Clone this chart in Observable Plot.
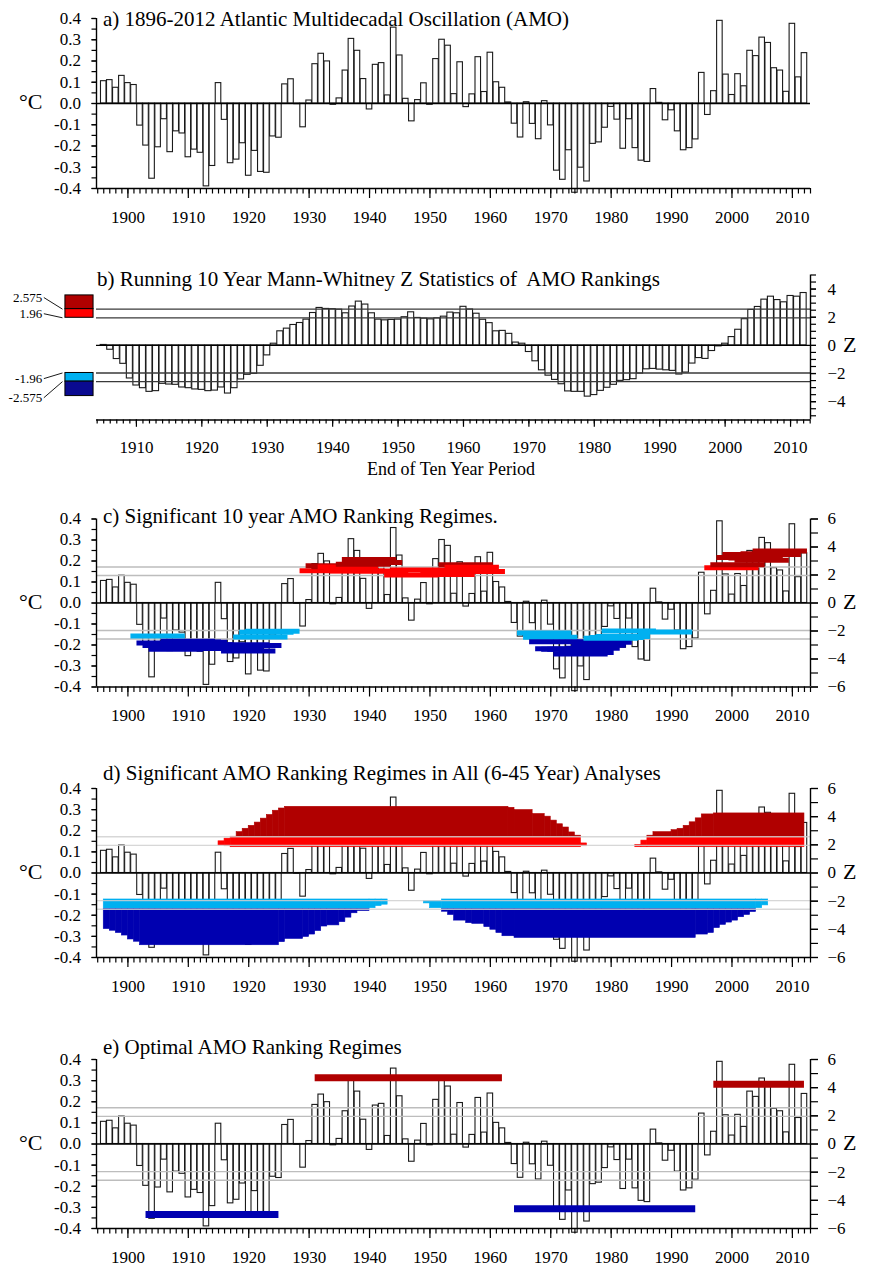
<!DOCTYPE html>
<html>
<head>
<meta charset="utf-8">
<script src="https://cdn.jsdelivr.net/npm/d3@7"></script>
<script src="https://cdn.jsdelivr.net/npm/@observablehq/plot@0.6"></script>
<style>
  body { margin: 0; background: #fff; }
  #page { position: relative; width: 869px; height: 1268px; overflow: hidden; background: #fff;
          font-family: "Liberation Serif", "Times New Roman", serif; color: #000; }
  .panel { position: absolute; left: 0; }
  .panel svg, .panel svg text { font-family: "Liberation Serif", "Times New Roman", serif !important; }
  .lbl { position: absolute; white-space: pre; line-height: 1; }
</style>
</head>
<body>
<div id="page"></div>
<script>
// ---------------- data ----------------
// Annual AMO index (deg C), 1896-2012
const amoYears = d3.range(1896, 2013);
const amoValues = [
  0.105, 0.110, 0.074, 0.130, 0.096, 0.087, -0.104, -0.198, -0.354, -0.206,   // 1896-1905
  -0.074, -0.229, -0.131, -0.141, -0.253, -0.217, -0.232, -0.390, -0.294, 0.096, // 1906-1915
  -0.077, -0.281, -0.264, -0.187, -0.340, -0.223, -0.322, -0.326, -0.155, -0.161, // 1916-1925
  0.090, 0.114, -0.003, -0.112, 0.014, 0.185, 0.234, 0.198, -0.006, 0.024,     // 1926-1935
  0.155, 0.304, 0.248, 0.115, -0.028, 0.182, 0.190, 0.038, 0.357, 0.226,       // 1936-1945
  0.022, -0.084, 0.016, 0.095, -0.006, 0.209, 0.300, 0.272, 0.044, 0.194,      // 1946-1955
  -0.017, 0.043, 0.218, 0.054, 0.239, 0.100, 0.074, 0.005, -0.095, -0.160,     // 1956-1965
  0.006, -0.096, -0.168, 0.011, -0.103, -0.316, -0.359, -0.220, -0.420, -0.302, // 1966-1975
  -0.367, -0.190, -0.183, -0.114, -0.016, -0.076, -0.213, -0.074, -0.210, -0.269, // 1976-1985
  -0.275, 0.068, 0.003, -0.079, -0.032, -0.131, -0.220, -0.210, -0.169, 0.144, // 1986-1995
  -0.054, 0.058, 0.389, 0.136, 0.040, 0.138, 0.081, 0.248, 0.223, 0.310,       // 1996-2005
  0.285, 0.166, 0.155, 0.055, 0.375, 0.123, 0.237                              // 2006-2012
];

// Running 10-year Mann-Whitney Z statistic, by end year of the window
const zYears = d3.range(1905, 2013);
const zValues = [
  0.03, -0.31, -0.97, -1.31, -2.35, -2.85, -3.04, -3.30, -3.25, -2.73,  // 1905-1914
  -2.78, -2.80, -2.99, -3.04, -3.13, -3.16, -3.25, -3.21, -2.99, -3.42, // 1915-1924
  -3.04, -2.42, -2.09, -2.02, -1.45, -0.71, 0.12, 1.00, 1.19, 1.45,     // 1925-1934
  1.59, 1.83, 2.30, 2.66, 2.59, 2.57, 2.54, 2.28, 2.76, 3.11,           // 1935-1944
  2.90, 2.28, 1.83, 1.78, 1.81, 1.83, 2.00, 2.35, 1.95, 1.90,           // 1945-1954
  1.85, 1.92, 2.04, 2.33, 2.28, 2.74, 2.55, 2.25, 1.82, 1.58,           // 1955-1964
  1.00, 1.03, 0.82, 0.20, 0.12, -0.47, -1.13, -1.77, -2.15, -2.45,      // 1965-1974
  -2.76, -3.27, -3.30, -3.30, -3.64, -3.53, -3.23, -3.01, -2.80, -2.52, // 1975-1984
  -2.47, -2.40, -2.00, -1.70, -1.67, -1.72, -1.77, -1.81, -2.07, -1.93, // 1985-1994
  -1.29, -0.90, -0.96, -0.40, -0.07, 0.12, 0.59, 1.11, 1.86, 2.52,      // 1995-2004
  2.73, 3.25, 3.46, 3.22, 3.06, 3.51, 3.46, 3.72                        // 2005-2012
];

// Significance thresholds (Z) and their legend labels
const zLevels = [2.575, 1.96, -1.96, -2.575];
const zLevelText = ["2.575", "1.96", "-1.96", "-2.575"];

// All-analysis (6-45 year) regime envelopes, in Z units
// dark red: from 2.575 up to drTop
const drStart = [1918,1919,1920,1921,1922,1923,1924,1925,1926,1963,1964,1967,1969,1970,1971,1972,1973,1974,
                 1986,1987,1990,1991,1992,1993,1994,1995,1997];
const drEnd   = [1919,1920,1921,1922,1923,1924,1925,1926,1963,1964,1967,1969,1970,1971,1972,1973,1974,1975,
                 1987,1990,1991,1992,1993,1994,1995,1997,2012];
const drTop   = [2.90,3.14,3.35,3.58,3.86,4.12,4.42,4.58,4.70,4.63,4.47,4.19,4.00,3.72,3.46,3.23,2.88,2.65,
                 2.65,2.90,3.04,3.14,3.35,3.60,3.88,4.16,4.23];
// red: between rbLow and rbHigh
const rbStart = [1915, 1916, 1917, 1975, 1984, 1985, 1986];
const rbEnd   = [1916, 1917, 1975, 1976, 1985, 1986, 2012];
const rbLow   = [1.95, 1.90, 1.83, 1.90, 1.83, 1.83, 1.83];
const rbHigh  = [2.25, 2.44, 2.575, 2.10, 2.00, 2.30, 2.575];
// light blue: between lbHigh and lbLow
const lbStart = [1896, 1940, 1941, 1942, 1949, 1950, 1952, 2004, 2005];
const lbEnd   = [1940, 1941, 1942, 1943, 1950, 1952, 2004, 2005, 2006];
const lbHigh  = [-1.88, -1.88, -1.88, -1.88, -1.98, -1.98, -1.88, -1.88, -1.88];
const lbLow   = [-2.575, -2.50, -2.35, -2.25, -2.16, -2.50, -2.575, -2.50, -2.30];
// dark blue: from -2.575 down to dbBottom
const dbStart  = [1896,1897,1898,1899,1900,1901,1902,1925,1926,1929,1930,1931,1932,1933,1935,1936,1937,1938,
                  1952,1953,1954,1956,1957,1959,1960,1961,1962,1964,1994,1996,1997,1998,1999,2000,2001,2002,2003];
const dbEnd    = [1897,1898,1899,1900,1901,1902,1925,1926,1929,1930,1931,1932,1933,1935,1936,1937,1938,1940,
                  1953,1954,1956,1957,1959,1960,1961,1962,1964,1994,1996,1997,1998,1999,2000,2001,2002,2003,2004];
const dbBottom = [-3.98,-4.10,-4.26,-4.44,-4.72,-4.88,-5.13,-4.91,-4.68,-4.54,-4.37,-4.12,-3.80,-3.72,-3.49,-3.17,-2.86,-2.70,
                  -2.75,-2.98,-3.38,-3.56,-3.61,-3.84,-4.03,-4.26,-4.49,-4.61,-4.37,-4.26,-3.91,-3.68,-3.52,-3.38,-3.14,-2.98,-2.77];

// Optimal regimes
const optStart = [1903, 1931, 1964, 1997];
const optEnd   = [1925, 1962, 1994, 2012];
const optZ     = [-5.00, 4.70, -4.60, 4.25];

// Tick labels
const decadeTicks = [1900, 1910, 1920, 1930, 1940, 1950, 1960, 1970, 1980, 1990, 2000, 2010];
const decadeTicksB = [1910, 1920, 1930, 1940, 1950, 1960, 1970, 1980, 1990, 2000, 2010];
const cTickValues = [0.4, 0.3, 0.2, 0.1, 0, -0.1, -0.2, -0.3, -0.4];
const cTickText   = ["0.4", "0.3", "0.2", "0.1", "0.0", "-0.1", "-0.2", "-0.3", "-0.4"];
const zTickValues = [6, 4, 2, 0, -2, -4, -6];
const zTickText   = ["6", "4", "2", "0", "\u22122", "\u22124", "\u22126"];
const zbTickValues = [4, 2, 0, -2, -4];
const zbTickText   = ["4", "2", "0", "\u22122", "\u22124"];

// ---------------- styling helpers ----------------
const W = 869;
const FONT = '"Liberation Serif", "Times New Roman", serif';
const COL = { darkRed: "#b00000", red: "#ff0000", lightBlue: "#00b0f0", darkBlue: "#0000b0" };
const zToC = z => z * 0.4 / 6;             // right-hand Z axis: 6 Z <-> 0.4 degC
const xDomain = [1894.8, 2013.0];
const xDomainB = [1903.9, 2013.05];

const amo = amoYears.map((year, i) => ({ year, value: amoValues[i] }));
const zRun = zYears.map((year, i) => ({ year, z: zValues[i] }));

function zColor(z) {
  if (z >= 2.575) return COL.darkRed;
  if (z >= 1.96) return COL.red;
  if (z <= -2.575) return COL.darkBlue;
  return COL.lightBlue;
}

function amoBars() {
  return Plot.rect(amo, {
    x1: d => d.year - 0.5, x2: d => d.year + 0.5, y1: 0, y2: "value",
    fill: "white", stroke: "#1a1a1a", strokeWidth: 1.1, insetLeft: 0.25, insetRight: 0.25
  });
}

const axisText = { fontFamily: FONT, fontSize: 17, label: null, strokeWidth: 1.2 };

function yearAxis(minorTicks, majorTicks, majorSize, minorSize, pad) {
  return [
    Plot.axisX({ ...axisText, ticks: minorTicks, tickSize: minorSize, tickFormat: () => "" }),
    Plot.axisX({ ...axisText, ticks: majorTicks, tickSize: majorSize, tickPadding: pad, tickFormat: d => String(d) })
  ];
}

const cMinorTicks = cTickValues.slice(1).map((v, i) => (v + cTickValues[i]) / 2).concat(cTickValues);
function celsiusAxis() {
  return [
    Plot.axisY({ ...axisText, anchor: "left", ticks: cMinorTicks, tickSize: 4.5, tickFormat: () => "" }),
    Plot.axisY({ ...axisText, anchor: "left", ticks: cTickValues, tickSize: 4.5, tickPadding: 11,
                 tickFormat: d => cTickText[cTickValues.findIndex(v => Math.abs(v - d) < 1e-9)] })
  ];
}

const zAllTicks = d3.range(-6, 7);
function zRightAxis() {
  return [
    Plot.axisY({ ...axisText, anchor: "right", ticks: zAllTicks.map(zToC), tickSize: 7, tickFormat: () => "" }),
    Plot.axisY({ ...axisText, anchor: "right", ticks: zTickValues.map(zToC), tickSize: 7, tickPadding: 10,
                 tickFormat: d => zTickText[zTickValues.findIndex(z => Math.abs(zToC(z) - d) < 1e-9)] })
  ];
}

function sigLines() {
  return Plot.ruleY(zLevels.map(zToC), { stroke: "#bdbdbd", strokeWidth: 1.4 });
}

function frame(withLeft, withRight, dom) {
  const m = [Plot.ruleY([-0.4], { stroke: "black", strokeWidth: 1.4 })];
  if (withLeft) m.push(Plot.ruleX([dom[0]], { y1: -0.4, y2: 0.4, stroke: "black", strokeWidth: 1.4 }));
  if (withRight) m.push(Plot.ruleX([dom[1]], { y1: -0.4, y2: 0.4, stroke: "black", strokeWidth: 1.4 }));
  return m;
}

const baseStyle = `font-family: ${FONT}; font-size: 17px; background: transparent; overflow: visible; color: black;`;

const page = document.getElementById("page");
function place(el, top) {
  const d = document.createElement("div");
  d.className = "panel";
  d.style.top = top + "px";
  d.appendChild(el);
  page.appendChild(d);
}
function label(text, x, cy, size, align) {
  const d = document.createElement("div");
  d.className = "lbl";
  d.textContent = text;
  d.style.fontSize = size + "px";
  d.style.top = (cy - 0.51 * size) + "px";
  d.style.left = x + "px";
  if (align === "center") d.style.transform = "translateX(-50%)";
  page.appendChild(d);
}

// ---------------- a) AMO ----------------
place(Plot.plot({
  width: W, height: 235, marginLeft: 96, marginRight: 59, marginTop: 18, marginBottom: 47,
  x: { domain: xDomain }, y: { domain: [-0.4, 0.4] },
  style: baseStyle,
  marks: [
    amoBars(),
    Plot.ruleY([0], { stroke: "black", strokeWidth: 1.4 }),
    ...frame(true, false, xDomain),
    ...celsiusAxis(),
    ...yearAxis(d3.range(1895, 2014), decadeTicks, 10, 5.5, 12)
  ]
}), 0);

// ---------------- b) running Mann-Whitney Z ----------------
const legendX = [1899.15, 1903.45];         // boxes sit left of the frame
const legendBands = [
  { lo: zLevels[0], hi: 3.55, fill: COL.darkRed },
  { lo: zLevels[1], hi: zLevels[0], fill: COL.red },
  { lo: zLevels[3], hi: zLevels[2], fill: COL.lightBlue },
  { lo: -3.6, hi: zLevels[3], fill: "#0a0a90" }
];
const legendLabelZ = [3.40, 2.25, -2.36, -3.72];
const legendLabels = zLevels.map((z, i) => ({ z, text: zLevelText[i], lz: legendLabelZ[i] }));

place(Plot.plot({
  width: W, height: 240, marginLeft: 96, marginRight: 59, marginTop: 34.5, marginBottom: 60.5,
  x: { domain: xDomainB }, y: { domain: [-5.3, 5] },
  style: baseStyle,
  marks: [
    Plot.rect(zRun, {
      x1: d => d.year - 0.5, x2: d => d.year + 0.5, y1: 0, y2: "z",
      fill: "white", stroke: "#1a1a1a", strokeWidth: 1.1, insetLeft: 0.25, insetRight: 0.25
    }),
    Plot.ruleY(zLevels, { stroke: "#3a3a3a", strokeWidth: 1.3 }),
    Plot.ruleY([0], { stroke: "black", strokeWidth: 1.4 }),
    Plot.ruleY([-5.3], { stroke: "black", strokeWidth: 1.4 }),
    Plot.ruleX([xDomainB[1]], { y1: -5.3, y2: 5, stroke: "black", strokeWidth: 1.4 }),
    Plot.axisY({ ...axisText, anchor: "right", ticks: d3.range(-10, 11).map(k => k / 2), tickSize: 5, tickFormat: () => "" }),
    Plot.axisY({ ...axisText, anchor: "right", ticks: zbTickValues, tickSize: 5, tickPadding: 12,
                 tickFormat: d => zbTickText[zbTickValues.indexOf(d)] }),
    ...yearAxis(d3.range(1904, 2014), decadeTicksB, 7.3, 4, 14),
    // significance legend
    Plot.rect(legendBands, { x1: legendX[0], x2: legendX[1], y1: "lo", y2: "hi", fill: "fill", stroke: "black", strokeWidth: 1 }),
    Plot.link(legendLabels, { x1: 1895.85, y1: "lz", x2: 1898.7, y2: "z", stroke: "black", strokeWidth: 0.9 }),
    Plot.text(legendLabels, { x: 1895.6, y: "lz", text: "text", textAnchor: "end", fontSize: 13, fontFamily: FONT, fill: "black" })
  ]
}), 240);

// ---------------- c) 10-year regimes ----------------
const tenYear = zRun.filter(d => Math.abs(d.z) >= 1.96);
place(Plot.plot({
  width: W, height: 260, marginLeft: 96, marginRight: 59, marginTop: 38.5, marginBottom: 53.5,
  x: { domain: xDomain }, y: { domain: [-0.4, 0.4] },
  style: baseStyle,
  marks: [
    amoBars(),
    sigLines(),
    Plot.ruleY([0], { stroke: "black", strokeWidth: 1.4 }),
    Plot.ruleY(tenYear, {
      y: d => zToC(d.z), x1: d => d.year - 8.5, x2: d => d.year + 0.5,
      stroke: d => zColor(d.z), strokeWidth: 5
    }),
    ...frame(true, true, xDomain),
    ...celsiusAxis(),
    ...zRightAxis(),
    ...yearAxis(d3.range(1895, 2014), decadeTicks, 10, 5.5, 12)
  ]
}), 480);

// ---------------- d) all analyses ----------------
const darkRedBand = drStart.map((s, i) => ({ x1: s, x2: drEnd[i], y1: zLevels[0], y2: drTop[i] }));
const redBand = rbStart.map((s, i) => ({ x1: s, x2: rbEnd[i], y1: rbLow[i], y2: rbHigh[i] }));
const lightBlueBand = lbStart.map((s, i) => ({ x1: s, x2: lbEnd[i], y1: lbLow[i], y2: lbHigh[i] }));
const darkBlueBand = dbStart.map((s, i) => ({ x1: s, x2: dbEnd[i], y1: dbBottom[i], y2: zLevels[3] }));
function band(data, color) {
  return Plot.rect(data, {
    x1: "x1", x2: "x2", y1: d => zToC(d.y1), y2: d => zToC(d.y2),
    fill: color, stroke: color, strokeWidth: 0.6
  });
}
place(Plot.plot({
  width: W, height: 270, marginLeft: 96, marginRight: 59, marginTop: 48, marginBottom: 53,
  x: { domain: xDomain }, y: { domain: [-0.4, 0.4] },
  style: baseStyle,
  marks: [
    amoBars(),
    Plot.ruleY([0], { stroke: "black", strokeWidth: 1.4 }),
    band(redBand, COL.red),
    band(darkRedBand, COL.darkRed),
    band(lightBlueBand, COL.lightBlue),
    band(darkBlueBand, COL.darkBlue),
    Plot.ruleY(zLevels.map(zToC), { stroke: "#d0d0d0", strokeWidth: 1.4, strokeOpacity: 0.85 }),
    ...frame(true, true, xDomain),
    ...celsiusAxis(),
    ...zRightAxis(),
    ...yearAxis(d3.range(1895, 2014), decadeTicks, 10, 5.5, 12)
  ]
}), 740);

// ---------------- e) optimal regimes ----------------
const optimal = optStart.map((s, i) => ({ x1: s, x2: optEnd[i], z: optZ[i] }));
place(Plot.plot({
  width: W, height: 258, marginLeft: 96, marginRight: 59, marginTop: 49, marginBottom: 40,
  x: { domain: xDomain }, y: { domain: [-0.4, 0.4] },
  style: baseStyle,
  marks: [
    amoBars(),
    sigLines(),
    Plot.ruleY([0], { stroke: "black", strokeWidth: 1.4 }),
    Plot.ruleY(optimal, { y: d => zToC(d.z), x1: "x1", x2: "x2", stroke: d => zColor(d.z), strokeWidth: 7 }),
    ...frame(true, true, xDomain),
    ...celsiusAxis(),
    ...zRightAxis(),
    ...yearAxis(d3.range(1895, 2014), decadeTicks, 10, 5.5, 12)
  ]
}), 1010);

// ---------------- titles and unit labels ----------------
label("a) 1896-2012 Atlantic Multidecadal Oscillation (AMO)", 103, 20, 21);
label("b) Running 10 Year Mann-Whitney Z Statistics of  AMO Rankings", 97, 280, 21);
label("End of Ten Year Period", 451, 469, 18, "center");
label("c) Significant 10 year AMO Ranking Regimes.", 103, 517, 21);
label("d) Significant AMO Ranking Regimes in All (6-45 Year) Analyses", 103, 774, 21);
label("e) Optimal AMO Ranking Regimes", 103, 1048, 21);
for (const cy of [102, 602, 872, 1143]) label("\u00b0C", 19, cy, 22);
for (const cy of [345, 602, 872, 1143]) label("Z", 843, cy, 22);
</script>
</body>
</html>
